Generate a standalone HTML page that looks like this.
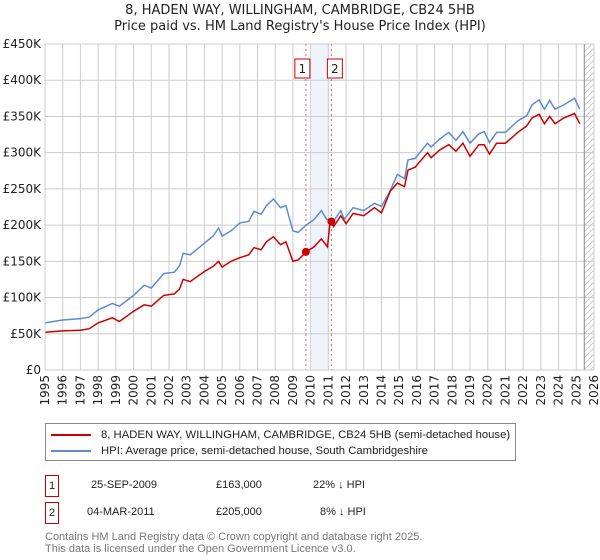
<!DOCTYPE html>
<html><head><meta charset="utf-8"><style>
body{margin:0;background:#fff;font-family:"Liberation Sans","DejaVu Sans",sans-serif;}
#wrap{position:relative;width:600px;height:560px;overflow:hidden}
.t{position:absolute;white-space:nowrap}
</style></head><body><div id="wrap">
<div class="t" style="left:0;width:600px;text-align:center;top:3px;font-size:13px;color:#222;font-family:'DejaVu Sans',sans-serif">8, HADEN WAY, WILLINGHAM, CAMBRIDGE, CB24 5HB</div>
<div class="t" style="left:0;width:600px;text-align:center;top:19px;font-size:13px;color:#222;font-family:'DejaVu Sans',sans-serif">Price paid vs. HM Land Registry's House Price Index (HPI)</div>
<svg id="chart" width="600" height="420" style="position:absolute;left:0;top:0;font-family:'DejaVu Sans',sans-serif"></svg>
<div style="position:absolute;left:45px;top:423px;width:471px;height:38px;border:1px solid #888;box-sizing:border-box;font-size:11.3px;color:#222">
 <div style="position:absolute;left:5px;top:5px"><span style="display:inline-block;width:40px;height:2px;background:#cc0000;vertical-align:middle;margin-right:10px"></span>8, HADEN WAY, WILLINGHAM, CAMBRIDGE, CB24 5HB (semi-detached house)</div>
 <div style="position:absolute;left:5px;top:21px"><span style="display:inline-block;width:40px;height:2px;background:#5b8dd0;vertical-align:middle;margin-right:10px"></span>HPI: Average price, semi-detached house, South Cambridgeshire</div>
</div>
<div style="position:absolute;left:0;top:475px;font-size:11px;color:#222">
 <div class="t" style="left:45px;top:0;width:12px;height:20px;border:1px solid #cc0000;text-align:center;line-height:20px">1</div>
 <div class="t" style="left:91px;top:4px">25-SEP-2009</div>
 <div class="t" style="left:216px;top:4px">£163,000</div>
 <div class="t" style="left:313px;top:4px">22% ↓ HPI</div>
</div>
<div style="position:absolute;left:0;top:502px;font-size:11px;color:#222">
 <div class="t" style="left:45px;top:0;width:12px;height:20px;border:1px solid #cc0000;text-align:center;line-height:20px">2</div>
 <div class="t" style="left:87px;top:4px">04-MAR-2011</div>
 <div class="t" style="left:216px;top:4px">£205,000</div>
 <div class="t" style="left:320px;top:4px">8% ↓ HPI</div>
</div>
<div class="t" style="left:45px;top:531px;font-size:11px;color:#777;line-height:12px">Contains HM Land Registry data © Crown copyright and database right 2025.<br>This data is licensed under the Open Government Licence v3.0.</div>
</div>
<script>
const yTicks=[0,50000,100000,150000,200000,250000,300000,350000,400000,450000];
const yTickLabels=["£0","£50K","£100K","£150K","£200K","£250K","£300K","£350K","£400K","£450K"];
const xYears=[1995,1996,1997,1998,1999,2000,2001,2002,2003,2004,2005,2006,2007,2008,2009,2010,2011,2012,2013,2014,2015,2016,2017,2018,2019,2020,2021,2022,2023,2024,2025,2026];
const hpiT=[1995,1996,1997,1997.5,1998,1998.8,1999.2,2000,2000.6,2001,2001.7,2002.3,2002.6,2002.8,2003.2,2004,2004.5,2004.8,2005,2005.5,2006,2006.5,2006.8,2007.2,2007.5,2007.9,2008.3,2008.6,2009,2009.3,2009.75,2010.2,2010.6,2010.9,2011.3,2011.7,2011.9,2012.4,2013,2013.6,2014,2014.4,2014.9,2015.3,2015.5,2015.9,2016.6,2016.8,2017.3,2017.8,2018.2,2018.6,2019,2019.5,2019.8,2020.1,2020.5,2021,2021.7,2022.2,2022.5,2022.9,2023.2,2023.5,2023.8,2024.3,2024.9,2025.2];
const hpiV=[65,69,71,73,83,92,88,103,117,113,133,135,144,161,159,175,185,196,185,192,203,205,219,215,227,236,224,227,192,190,200,208,220,208,206,220,208,224,220,230,226,243,270,264,290,292,313,308,319,328,317,329,313,326,329,314,328,328,344,351,366,373,360,372,360,366,375,360];
const redT=[1995,1996,1997,1997.5,1998,1998.8,1999.2,2000,2000.6,2001,2001.7,2002.3,2002.6,2002.8,2003.2,2004,2004.5,2004.8,2005,2005.5,2006,2006.5,2006.8,2007.2,2007.5,2007.9,2008.3,2008.6,2009,2009.3,2009.75,2010.2,2010.6,2010.95,2011.1,2011.3,2011.7,2012,2012.4,2013,2013.6,2014,2014.5,2014.9,2015.3,2015.5,2015.9,2016.6,2016.8,2017.3,2017.8,2018.2,2018.6,2019,2019.5,2019.8,2020.1,2020.5,2021,2021.7,2022.2,2022.5,2022.9,2023.2,2023.5,2023.8,2024.3,2024.9,2025.2];
const redV=[52,54,55,57,65,72,67,81,90,88,103,105,112,125,122,136,143,150,142,150,155,159,169,166,177,184,173,177,150,152,163,170,181,170,205,198,213,202,216,213,224,217,247,258,253,276,280,300,293,304,311,302,313,295,311,311,298,313,313,328,337,348,353,340,350,340,348,354,340];
const saleT=[2009.73,2011.17];
const saleV=[163,205];
const saleLabels=["1","2"];
const NS="http://www.w3.org/2000/svg",svg=document.getElementById('chart');
const X0=45,X1=594,Y0=370,Y1=44;
const xs=t=>X0+(t-1995)/31*(X1-X0);
const ys=v=>Y0-v/450000*(Y0-Y1);
function mk(tag,a,parent){const e=document.createElementNS(NS,tag);for(const k in a)e.setAttribute(k,a[k]);(parent||svg).appendChild(e);return e;}
let e;
e=mk('rect',{x:xs(2010.05),y:Y1,width:xs(2011)-xs(2010.05),height:Y0-Y1,fill:'#eef3fc'});


const defs=mk('defs',{});const pat=mk('pattern',{id:'h',width:6,height:6,patternUnits:'userSpaceOnUse'},defs);
mk('path',{d:'M0,6 L6,0',stroke:'#ccc','stroke-width':1},pat);
e=mk('rect',{x:xs(2025.45),y:Y1,width:X1-xs(2025.45),height:Y0-Y1,fill:'url(#h)'});


yTicks.forEach((v,i)=>{
 e=mk('line',{x1:X0,x2:X1,y1:ys(v),y2:ys(v),stroke:'#ccc'});
 
 
 e=mk('text',{x:X0-4,y:ys(v)+4,'text-anchor':'end','font-size':12,fill:'#222'});e.textContent=yTickLabels[i];
 
 
});
xYears.forEach(y=>{
 e=mk('line',{x1:xs(y),x2:xs(y),y1:Y1,y2:Y0,stroke:'#ccc'});
 
 
 e=mk('text',{x:0,y:0,transform:`translate(${xs(y)+4},${Y0+5}) rotate(-90)`,'text-anchor':'end','font-size':12,fill:'#222'});e.textContent=y;
 
 
});
e=mk('line',{x1:xs(2025.45),x2:xs(2025.45),y1:Y1,y2:Y0,stroke:'#888'});


saleT.forEach((t,i)=>{
 e=mk('line',{x1:xs(t),x2:xs(t),y1:Y1,y2:Y0,stroke:'#e06060','stroke-dasharray':'2,3'});
 
 
 const bx=xs(t)+(i==0?-11:-4);
 e=mk('rect',{x:bx,y:59,width:15,height:19,fill:'#fff',stroke:'#cc0000'});
 
 
 e=mk('text',{x:bx+7.5,y:73,'text-anchor':'middle','font-size':12,fill:'#222'});e.textContent=saleLabels[i];
 
 
});
const path=(T,V)=>T.map((t,i)=>(i?'L':'M')+xs(t).toFixed(1)+','+ys(V[i]*1000).toFixed(1)).join('');
e=mk('path',{d:path(hpiT,hpiV),fill:'none',stroke:'#5b8dd0','stroke-width':1.5});


e=mk('path',{d:path(redT,redV),fill:'none',stroke:'#cc0000','stroke-width':1.5});


saleT.forEach((t,i)=>{
 e=mk('circle',{cx:xs(t),cy:ys(saleV[i]*1000),r:4,fill:'#cc0000'});
 
 
});
e=mk('rect',{x:X0,y:Y1,width:X1-X0,height:Y0-Y1,fill:'none',stroke:'#ccc'});


</script></body></html>
